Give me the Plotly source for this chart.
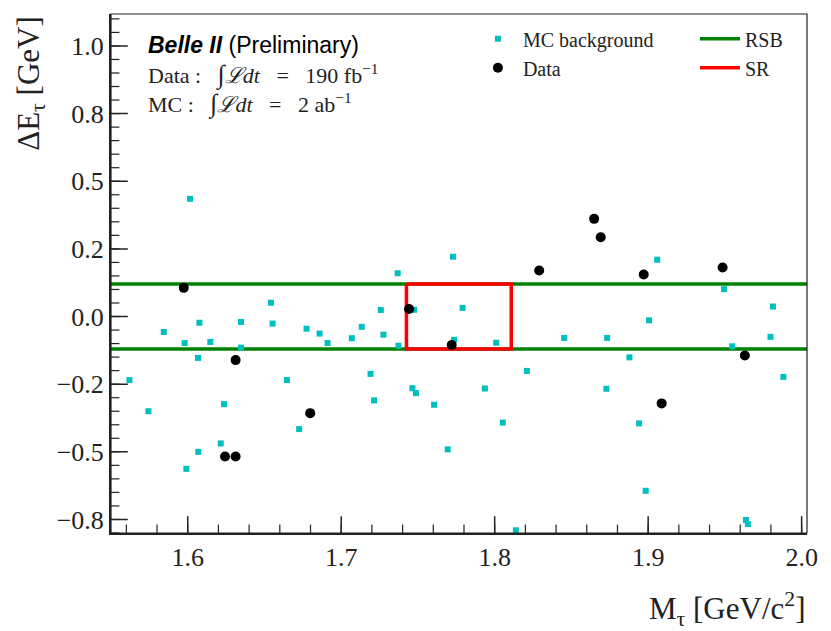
import plotly.graph_objects as go

# MC background events (M_tau [GeV/c^2], Delta E_tau [GeV])
mc_mass = [1.6015, 1.7368, 1.6542, 1.7258, 1.7474, 1.5844, 1.5980, 1.6076, 1.6147, 1.6067,
           1.6347, 1.6347, 1.6553, 1.6774, 1.6859, 1.6911, 1.7069, 1.7134, 1.7275, 1.7373,
           1.5620, 1.5744, 1.6236, 1.6215, 1.6069, 1.5991, 1.6646, 1.6726, 1.7191, 1.7214,
           1.7464, 1.7487, 1.7791, 1.7735, 1.8010, 1.8453, 1.8733, 1.9006, 1.9813, 1.9797,
           1.9548, 1.8878, 1.8210, 1.7936, 1.7605, 1.8728, 1.9881, 1.8053, 1.8941, 1.7694,
           1.8984, 1.9637, 1.9650, 1.8138, 1.7728, 1.9059, 1.9494]
mc_de = [0.435, 0.160, 0.051, 0.024, 0.025, -0.057, -0.098, -0.023, -0.094, -0.153,
         -0.020, -0.115, -0.026, -0.045, -0.063, -0.098, -0.080, -0.038, -0.067, -0.108,
         -0.235, -0.350, -0.324, -0.469, -0.500, -0.563, -0.235, -0.416, -0.212, -0.310,
         -0.265, -0.283, 0.032, -0.086, -0.097, -0.079, -0.079, -0.014, 0.037, -0.075,
         -0.110, -0.151, -0.201, -0.266, -0.326, -0.267, -0.223, -0.392, -0.395, -0.491,
         -0.644, -0.752, -0.767, -0.790, 0.221, 0.210, 0.101]

# data events
data_mass = [1.5974, 1.7442, 1.6312, 1.6243, 1.6312, 1.6798, 1.7720, 1.9630, 1.9088,
             1.8648, 1.8691, 1.8290, 1.8971, 1.9485]
data_de = [0.106, 0.028, -0.161, -0.517, -0.517, -0.357, -0.105, -0.144, -0.321,
           0.361, 0.293, 0.170, 0.155, 0.181]

# regions
rsb_de = 0.12
sr_mass = [1.7425, 1.8108]
sr_de = [-0.12, 0.12]

x_range = [1.55, 2.0035]
y_range = [-0.80, 1.118]

y_tickvals = [-0.75, -0.5, -0.25, 0.0, 0.25, 0.5, 0.75, 1.0]
y_ticktext = ["−0.8", "−0.5", "−0.2", "0.0", "0.2", "0.5", "0.8", "1.0"]
x_tickvals = [1.6, 1.7, 1.8, 1.9, 2.0]
x_ticktext = ["1.6", "1.7", "1.8", "1.9", "2.0"]
x_minor = [round(1.56 + 0.02 * i, 2) for i in range(23)]
y_minor = [round(-0.8 + 0.05 * i, 2) for i in range(39)]

serif = "Liberation Serif, DejaVu Serif, serif"
sans = "Liberation Sans, Arial, sans-serif"
sp = "\u00a0"
tick_col = "#222"

fig = go.Figure()

fig.add_trace(go.Scatter(
    x=[x_range[0], x_range[1], None, x_range[0], x_range[1]],
    y=[rsb_de, rsb_de, None, -rsb_de, -rsb_de],
    mode="lines", line=dict(color="#008000", width=3.5),
    name="RSB", legend="legend2"))
fig.add_trace(go.Scatter(
    x=[sr_mass[0], sr_mass[1], sr_mass[1], sr_mass[0], sr_mass[0]],
    y=[sr_de[1], sr_de[1], sr_de[0], sr_de[0], sr_de[1]],
    mode="lines", line=dict(color="#ff0000", width=3.5),
    name="SR", legend="legend2"))
fig.add_trace(go.Scatter(
    x=mc_mass, y=mc_de, mode="markers",
    marker=dict(symbol="square", size=6, color="#00bfbf"),
    name="MC background", legend="legend"))
fig.add_trace(go.Scatter(
    x=data_mass, y=data_de, mode="markers",
    marker=dict(symbol="circle", size=10, color="black"),
    name="Data", legend="legend"))

# inner tick marks: line markers centred on the bottom / left axis, the outer
# half is clipped away by the plot area
def tick_trace(xs, ys, symbol, length, width):
    return go.Scatter(x=xs, y=ys, mode="markers", showlegend=False, hoverinfo="skip",
                      marker=dict(symbol=symbol, size=2 * length,
                                  line=dict(color=tick_col, width=width)))


fig.add_trace(tick_trace(x_minor, [y_range[0]] * len(x_minor), "line-ns", 6, 1.2))
fig.add_trace(tick_trace(x_tickvals, [y_range[0]] * len(x_tickvals), "line-ns", 12, 1.5))
fig.add_trace(tick_trace([x_range[0]] * len(y_minor), y_minor, "line-ew", 6, 1.2))
fig.add_trace(tick_trace([x_range[0]] * len(y_tickvals), y_tickvals, "line-ew", 12, 1.5))

fig.update_layout(
    xaxis=dict(
        range=x_range, tickmode="array", tickvals=x_tickvals, ticktext=x_ticktext,
        showgrid=False, zeroline=False, showline=True, linecolor=tick_col, linewidth=2,
        ticks="", tickfont=dict(family=serif, size=26, color="#222"),
    ),
    yaxis=dict(
        range=y_range, tickmode="array", tickvals=y_tickvals, ticktext=y_ticktext,
        showgrid=False, zeroline=False, showline=True, linecolor=tick_col, linewidth=2,
        ticks="", tickfont=dict(family=serif, size=26, color="#222"),
    ),
)

# thin frame for top / right
fig.add_shape(type="rect", xref="paper", yref="paper", x0=0, x1=1, y0=0, y1=1,
              line=dict(color="#222", width=1.2), layer="above")

fig.add_annotation(xref="paper", yref="paper", x=1.0, y=-0.1, xanchor="right", yanchor="top",
                   text="M<sub>τ</sub> [GeV/c<sup>2</sup>]", showarrow=False,
                   font=dict(family=serif, size=31, color="#222"))
fig.add_annotation(xref="paper", yref="paper", x=-0.116, y=1.0, xanchor="center", yanchor="top",
                   textangle=-90, text="ΔE<sub>τ</sub> [GeV]", showarrow=False,
                   font=dict(family=serif, size=31, color="#222"))

fig.add_annotation(xref="paper", yref="paper", x=0.05, y=0.97, xanchor="left", yanchor="top",
                   text="<b><i>Belle II</i></b> (Preliminary)", showarrow=False,
                   font=dict(family=sans, size=23, color="black"))
fig.add_annotation(xref="paper", yref="paper", x=0.05, y=0.915, xanchor="left", yanchor="top",
                   text="Data" + sp + ":" + sp * 3 + "<span style='font-size:26px'>∫</span><i>ℒdt</i>"
                        + sp * 3 + "=" + sp * 3 + "190 fb<sup>−1</sup>",
                   showarrow=False, font=dict(family=serif, size=22, color="#222"))
fig.add_annotation(xref="paper", yref="paper", x=0.05, y=0.86, xanchor="left", yanchor="top",
                   text="MC" + sp + ":" + sp * 3 + "<span style='font-size:26px'>∫</span><i>ℒdt</i>"
                        + sp * 3 + "=" + sp * 3 + "2 ab<sup>−1</sup>",
                   showarrow=False, font=dict(family=serif, size=22, color="#222"))

legend_common = dict(bgcolor="rgba(0,0,0,0)", borderwidth=0,
                     font=dict(family=serif, size=20, color="#222"),
                     xanchor="left", yanchor="top", tracegroupgap=0, itemwidth=40)

fig.update_layout(
    width=831, height=631,
    margin=dict(l=111, r=24, t=14, b=98),
    plot_bgcolor="white", paper_bgcolor="white",
    legend=dict(x=0.52, y=0.99, **legend_common),
    legend2=dict(x=0.839, y=0.99, **legend_common),
)

fig.write_html("out.html", config={"displayModeBar": False},
               post_script="document.body.style.margin='0';")
